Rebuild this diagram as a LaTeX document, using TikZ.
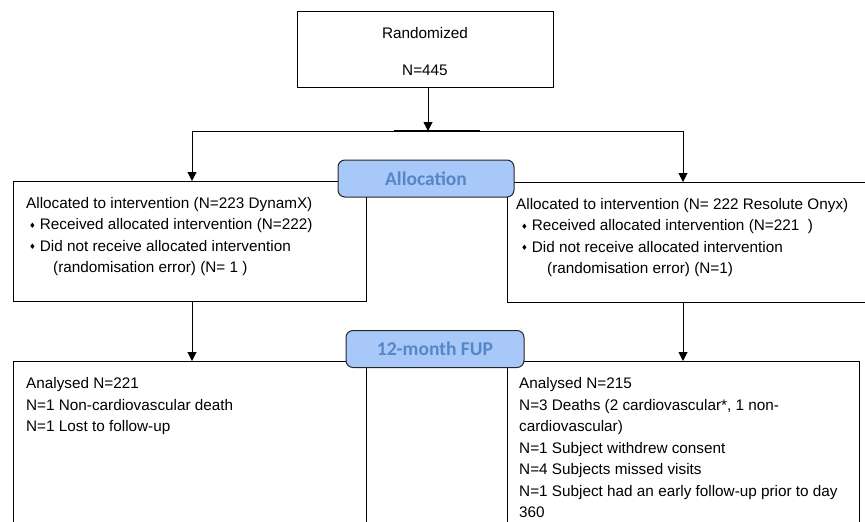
\documentclass[tikz,border=0pt]{standalone}
\usepackage{fontspec}
\setmainfont{Liberation Sans}
\newfontfamily\labelfont{Carlito}
\newfontfamily\symfont{DejaVu Sans}
\usetikzlibrary{arrows.meta}
\definecolor{lblfill}{HTML}{A8C8FA}
\definecolor{lbltext}{HTML}{5587C6}
\newcommand\dbul{\raisebox{1.5pt}{\symfont\fontsize{7.5}{7.5}\selectfont ♦}\hspace{4pt}}
\begin{document}
\begin{tikzpicture}[x=1pt,y=-1pt,
  box/.style={draw=black, line width=1pt, fill=white, inner sep=0pt, anchor=north west},
  stage/.style={draw=black!85, line width=1pt, fill=lblfill, rounded corners=7pt, minimum height=37pt, inner sep=0pt, font=\labelfont\bfseries\fontsize{19.5}{20}\selectfont, text=lbltext},
  txt/.style={anchor=base west, inner sep=0pt, font=\fontsize{15.3}{18}\selectfont},
  ctxt/.style={txt, anchor=base},
  arr/.style={line width=1pt, -{Triangle[length=9pt,width=9pt]}},
  link/.style={line width=1pt}]
\useasboundingbox (0,0) rectangle (865,522);

% boxes
\node[box, minimum width=256pt, minimum height=76pt] (rand) at (297,11) {};
\node[box, minimum width=353pt, minimum height=120pt] (allocL) at (13,181) {};
\node[box, minimum width=365pt, minimum height=120pt] (allocR) at (507,182) {};
\node[box, minimum width=353pt, minimum height=180pt] (fupL) at (13,361) {};
\node[box, minimum width=352pt, minimum height=180pt] (fupR) at (507,361) {};

% connectors
\coordinate (split) at (428,131);
\coordinate (lsplit) at (192,131);
\coordinate (rsplit) at (683,131);
\draw[link] (lsplit) -- (rsplit);
\draw[line width=1.5pt] ([xshift=-34pt]split) -- ([xshift=52pt]split);
\draw[arr] (rand.south -| split) -- (split);
\draw[arr] (lsplit) -- (allocL.north -| lsplit);
\draw[arr] (rsplit) -- (allocR.north -| rsplit);
\draw[arr] (allocL.south -| lsplit) -- (fupL.north -| lsplit);
\draw[arr] (allocR.south -| rsplit) -- (fupR.north -| rsplit);

% stage labels
\node[stage, minimum width=176pt] (allocation) at (426,178.5) {Allocation};
\node[stage, minimum width=178pt] (fup) at (435,349) {12-month FUP};

% texts
\node[ctxt] (r1) at (425,38.5) {Randomized};
\node[ctxt] (r2) at (425,75.5) {N=445};

\node[txt] (al1) at (26,208) {Allocated to intervention (N=223 DynamX)};
\node[txt] (al2) at (29,229.5) {\dbul Received allocated intervention (N=222)};
\node[txt] (al3) at (29,251) {\dbul Did not receive allocated intervention};
\node[txt] (al4) at (53,272.5) {(randomisation error) (N= 1 )};

\node[txt] (ar1) at (516,209) {Allocated to intervention (N= 222 Resolute Onyx)};
\node[txt] (ar2) at (521,230.5) {\dbul Received allocated intervention (N=221\ \ )};
\node[txt] (ar3) at (521,252) {\dbul Did not receive allocated intervention};
\node[txt] (ar4) at (547,273.5) {(randomisation error) (N=1)};

\node[txt] (fl1) at (26,388.5) {Analysed N=221};
\node[txt] (fl2) at (26,410) {N=1 Non-cardiovascular death};
\node[txt] (fl3) at (26,431.5) {N=1 Lost to follow-up};

\node[txt] (fr1) at (519,388.5) {Analysed N=215};
\node[txt] (fr2) at (519,410) {N=3 Deaths (2 cardiovascular*, 1 non-};
\node[txt] (fr3) at (519,431.5) {cardiovascular)};
\node[txt] (fr4) at (519,453) {N=1 Subject withdrew consent};
\node[txt] (fr5) at (519,474.5) {N=4 Subjects missed visits};
\node[txt] (fr6) at (519,496) {N=1 Subject had an early follow-up prior to day};
\node[txt] (fr7) at (519,517.5) {360};
\end{tikzpicture}
\end{document}
